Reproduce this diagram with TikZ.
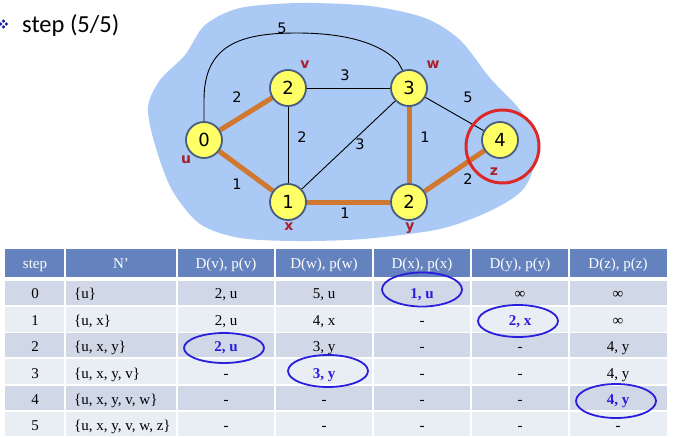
\documentclass[tikz,border=0pt]{standalone}
\usepackage{fontspec}
\setmainfont{Liberation Serif}
\newfontfamily\graphfont{DejaVu Sans}
\newfontfamily\titlefont{Carlito}
\usetikzlibrary{backgrounds}
\definecolor{blobblue}{RGB}{170,202,245}
\definecolor{vtxfill}{RGB}{255,255,102}
\definecolor{vtxedge}{RGB}{72,92,128}
\definecolor{treeline}{RGB}{208,120,48}
\definecolor{ringred}{RGB}{220,40,40}
\definecolor{namered}{RGB}{170,30,40}
\definecolor{hdrblue}{RGB}{100,130,190}
\definecolor{rowdark}{RGB}{208,216,232}
\definecolor{rowlight}{RGB}{233,237,244}
\definecolor{pickblue}{RGB}{40,30,220}
\definecolor{bulletblue}{RGB}{30,30,160}
\newcommand\pk[1]{\textcolor{pickblue}{\bfseries #1}}
\begin{document}
\begin{tikzpicture}[x=1pt,y=-1pt,line cap=round,line join=round,
  vtx/.style={circle,draw=vtxedge,line width=1.8pt,fill=vtxfill,minimum size=36pt,
    inner sep=0pt,font=\graphfont\fontsize{18}{18}\selectfont},
  tree/.style={draw=treeline,line width=5pt,line cap=butt},
  link/.style={draw=black,line width=0.9pt},
  elabel/.style={font=\graphfont\fontsize{14.5}{14.5}\selectfont,inner sep=0pt},
  vname/.style={font=\graphfont\bfseries\fontsize{14}{14}\selectfont,text=namered,inner sep=0pt},
  cell/.style={anchor=base,font=\fontsize{15}{15}\selectfont,inner sep=0pt},
  pick/.style={draw=pickblue,line width=1.8pt}]
  \useasboundingbox (0,0) rectangle (676,436);

  % title
  \foreach \dx/\dy in {-2.9/0,2.9/0,0/-2.9,0/2.9}
    \fill[bulletblue] (3.5+\dx,24+\dy) +(-1.8,0) -- +(0,-1.8) -- +(1.8,0) -- +(0,1.8) -- cycle;
  \node[anchor=base west,inner sep=0pt,font=\titlefont\fontsize{24.5}{24.5}\selectfont] (title) at (22,33) {step (5/5)};

  % graph
  \node[vtx] (u) at (204,140) {0};
  \node[vtx] (v) at (288,88) {2};
  \node[vtx] (w) at (409,88) {3};
  \node[vtx] (x) at (288,202) {1};
  \node[vtx] (y) at (409,202) {2};
  \node[vtx] (z) at (500,140) {4};
  \begin{scope}[on background layer]
    \fill[blobblue] plot[smooth cycle] coordinates {(148,107) (160,80) (185,55) (205,25)
      (240,8) (300,3) (370,6) (425,18) (460,40) (490,78) (520,110) (538,145) (525,187)
      (492,210) (440,229) (363,239) (297,241) (240,238) (200,224) (172,190) (155,145)};
    \draw[link] (u.north) -- (204,100) .. controls (204,45) and (240,33) .. (297,33)
      .. controls (350,33) and (382,45) .. (398,62) -- (w.110);
    \draw[link] (v) -- (w);
    \draw[link] (v) -- (x);
    \draw[link] (x) -- (w);
    \draw[link] (w) -- (z);
    \draw[tree] (u) -- (v);
    \draw[tree] (u) -- (x);
    \draw[tree] (x) -- (y);
    \draw[tree] (y) -- (w);
    \draw[tree] (y) -- (z);
  \end{scope}
  \draw[ringred,line width=3pt] (502.5,146.5) circle[radius=36.5pt];
  \node[elabel] (luw) at (282,28) {5};
  \node[elabel] (luv) at (237,97) {2};
  \node[elabel] (lux) at (237,184) {1};
  \node[elabel] (lvx) at (302,137) {2};
  \node[elabel] (lvw) at (345,75) {3};
  \node[elabel] (lxw) at (360,144) {3};
  \node[elabel] (lwy) at (425,137) {1};
  \node[elabel] (lxy) at (345,213) {1};
  \node[elabel] (lyz) at (468,179) {2};
  \node[elabel] (lwz) at (468,97) {5};
  \node[vname] (nu) at (186,160) {u};
  \node[vname] (nv) at (305,65) {v};
  \node[vname] (nw) at (433,65) {w};
  \node[vname] (nx) at (289,227) {x};
  \node[vname] (ny) at (410,228) {y};
  \node[vname] (nz) at (494,172) {z};

  % table
  \fill[hdrblue] (5,248.5) rectangle (667,277);
  \foreach \k/\top/\bot in {0/281/305,1/307/331.5,2/333/357,3/359/384,4/386/410,5/412/436} {
    \pgfmathparse{mod(\k,2)==0 ? "rowdark" : "rowlight"}
    \fill[\pgfmathresult] (5,\top) rectangle (667,\bot);
  }
  \foreach \c in {65,177,275,373,471,569}
    \draw[white,line width=2pt,line cap=butt] (\c,248.5) -- (\c,436);
  \foreach \c/\t [count=\i] in {35/step,121/N’,226/{D(v), p(v)},324/{D(w), p(w)},
      422/{D(x), p(x)},520/{D(y), p(y)},618/{D(z), p(z)}}
    \node[cell,text=white] (h\i) at (\c,268) {\t};
  \foreach \k/\b/\n/\dv/\dw/\dx/\dy/\dz in {
      0/298.5/{\{u\}}/{2, u}/{5, u}/{\pk{1, u}}/∞/∞,
      1/325/{\{u, x\}}/{2, u}/{4, x}/-/{\pk{2, x}}/∞,
      2/351.5/{\{u, x, y\}}/{\pk{2, u}}/{3, y}/-/-/{4, y},
      3/378/{\{u, x, y, v\}}/-/{\pk{3, y}}/-/-/{4, y},
      4/404/{\{u, x, y, v, w\}}/-/-/-/-/{\pk{4, y}},
      5/430/{\{u, x, y, v, w, z\}}/-/-/-/-/-} {
    \node[cell] (s\k) at (35,\b) {\k};
    \node[cell,anchor=base west] (n\k) at (74,\b) {\n};
    \node[cell] (dv\k) at (226,\b) {\dv};
    \node[cell] (dw\k) at (324,\b) {\dw};
    \node[cell] (dx\k) at (422,\b) {\dx};
    \node[cell] (dy\k) at (520,\b) {\dy};
    \node[cell] (dz\k) at (618,\b) {\dz};
  }
  \draw[pick] (422,289.5) ellipse[x radius=40pt,y radius=17pt];
  \draw[pick] (518,321) ellipse[x radius=40pt,y radius=16pt];
  \draw[pick] (224,348) ellipse[x radius=40pt,y radius=15pt];
  \draw[pick] (328,371) ellipse[x radius=40pt,y radius=16pt];
  \draw[pick] (616,401) ellipse[x radius=40pt,y radius=17pt];
\end{tikzpicture}
\end{document}
